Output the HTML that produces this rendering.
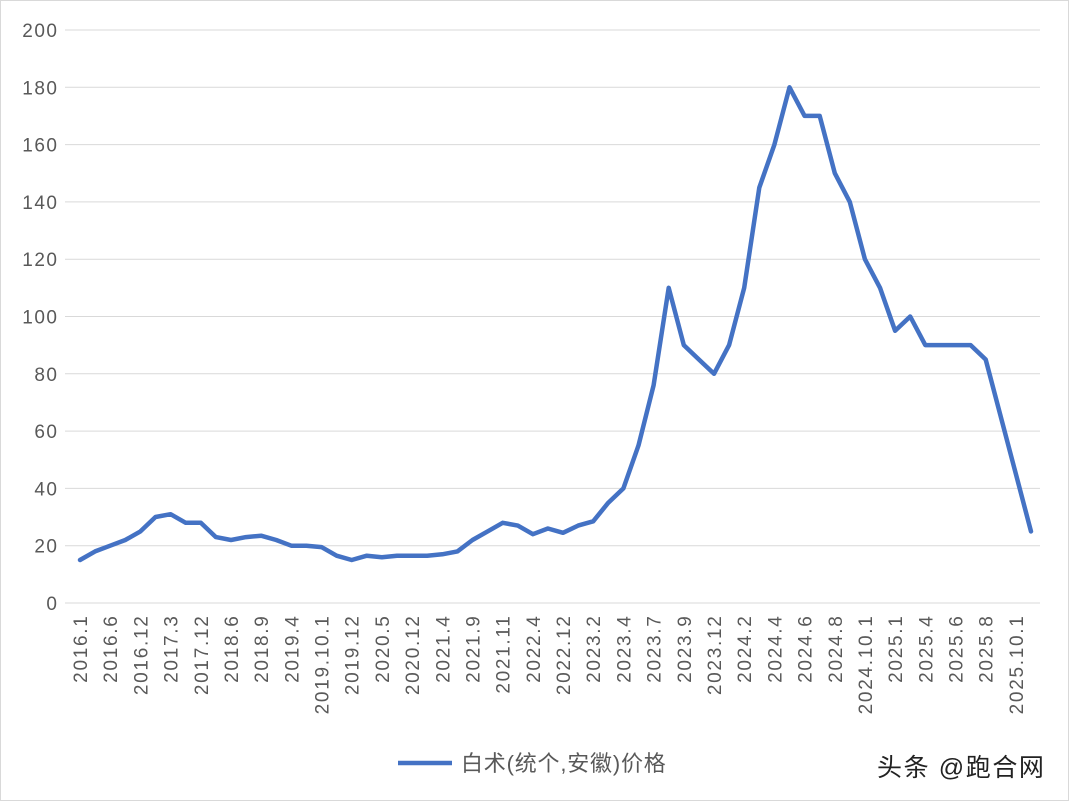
<!DOCTYPE html>
<html><head><meta charset="utf-8"><style>
body{margin:0;background:#fff;}
svg text{font-family:"Liberation Sans","Noto Sans CJK SC",sans-serif;}
</style></head><body>
<svg width="1070" height="802" xmlns="http://www.w3.org/2000/svg">
<rect x="0.5" y="0.5" width="1068" height="800" fill="#fff" stroke="#d9d9d9"/>
<g id="grid" stroke="#d9d9d9" stroke-width="1"></g>
<g id="yl" fill="#595959" font-size="19" letter-spacing="1.5" text-anchor="end"></g>
<g id="xl" fill="#595959" font-size="19" letter-spacing="1.7" text-anchor="end"></g>
<polyline id="ln" fill="none" stroke="#4472c4" stroke-width="4.5" stroke-linejoin="round" stroke-linecap="round"/>
<line x1="398" y1="763" x2="452" y2="763" stroke="#4472c4" stroke-width="4.5"/>
<text x="461" y="771" font-size="22" letter-spacing="0.8" fill="#595959">白术(统个,安徽)价格</text>
<text x="877" y="776" font-size="25" letter-spacing="1.6" fill="#222">头条 @跑合网</text>
<script>
var d=[15,18,20,22,25,30,31,28,28,23,22,23,23.5,22,20,20,19.5,16.5,15,16.5,16,16.5,16.5,16.5,17,18,22,25,28,27,24,26,24.5,27,28.5,35,40,55,76,110,90,85,80,90,110,145,160,180,170,170,150,140,120,110,95,100,90,90,90,90,85,65,45,25];
var labs="2016.1 2016.6 2016.12 2017.3 2017.12 2018.6 2018.9 2019.4 2019.10.1 2019.12 2020.5 2020.12 2021.4 2021.9 2021.11 2022.4 2022.12 2023.2 2023.4 2023.7 2023.9 2023.12 2024.2 2024.4 2024.6 2024.8 2024.10.1 2025.1 2025.4 2025.6 2025.8 2025.10.1".split(" ");
var ns="http://www.w3.org/2000/svg";
function Y(v){return 603-v*2.865;}
function X(i){return 80+i*15.095;}
var g=document.getElementById("grid"),yl=document.getElementById("yl"),xl=document.getElementById("xl");
for(var v=0;v<=200;v+=20){var l=document.createElementNS(ns,"line");l.setAttribute("x1",65);l.setAttribute("x2",1040);l.setAttribute("y1",Y(v));l.setAttribute("y2",Y(v));g.appendChild(l);
var t=document.createElementNS(ns,"text");t.setAttribute("x",58.5);t.setAttribute("y",Y(v)+7);t.textContent=v;yl.appendChild(t);}
labs.forEach(function(s,k){var x=X(2*k)+7,y=614.5;var t=document.createElementNS(ns,"text");t.setAttribute("x",x);t.setAttribute("y",y);t.setAttribute("transform","rotate(-90 "+x+" "+y+")");t.textContent=s;xl.appendChild(t);});
document.getElementById("ln").setAttribute("points",d.map(function(v,i){return X(i).toFixed(1)+","+Y(v).toFixed(1)}).join(" "));
</script>
</svg>
</body></html>
